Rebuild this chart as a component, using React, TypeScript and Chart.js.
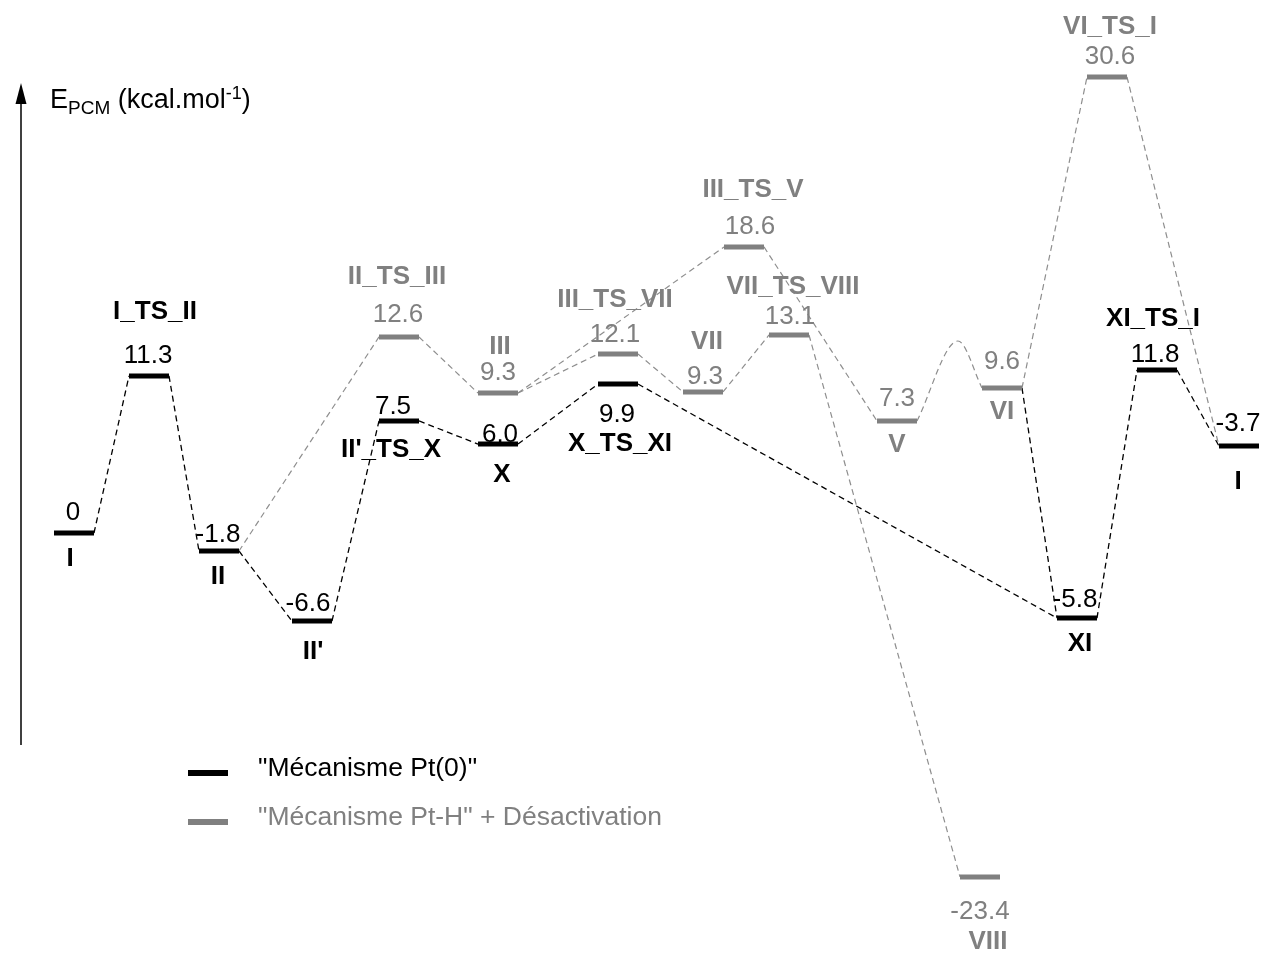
import React, { useEffect, useRef } from 'react';
import { Chart, registerables } from 'chart.js';

Chart.register(...registerables);

// ---------- DATA ----------
// States (index = id). First 10: "Mécanisme Pt(0)" ; last 10: "Mécanisme Pt-H" + Désactivation
const stateNames = [
  'I', 'I_TS_II', 'II', "II'", "II'_TS_X", 'X', 'X_TS_XI', 'XI', 'XI_TS_I', 'I',
  'II_TS_III', 'III', 'III_TS_VII', 'III_TS_V', 'VII', 'VII_TS_VIII', 'V', 'VI', 'VI_TS_I', 'VIII',
];
// Energy labels as printed (kcal/mol)
const energyLabels = [
  '0', '11.3', '-1.8', '-6.6', '7.5', '6.0', '9.9', '-5.8', '11.8', '-3.7',
  '12.6', '9.3', '12.1', '18.6', '9.3', '13.1', '7.3', '9.6', '30.6', '-23.4',
];
// Level heights as drawn on the diagram (kcal/mol scale)
const levels = [
  0, 10.47, -1.2, -5.87, 7.47, 5.93, 9.93, -5.67, 10.87, 5.8,
  13.07, 9.33, 11.93, 19.07, 9.4, 13.2, 7.47, 9.67, 30.4, -22.93,
];
// Reaction coordinate (arbitrary units) of each level's centre
const reactionCoord = [
  0.74, 1.49, 2.19, 3.12, 3.99, 4.98, 6.18, 10.77, 11.57, 12.39,
  3.99, 4.98, 6.18, 7.44, 7.03, 7.89, 8.97, 10.02, 11.07, 9.80,
];
const mechanism = [
  'Pt0', 'Pt0', 'Pt0', 'Pt0', 'Pt0', 'Pt0', 'Pt0', 'Pt0', 'Pt0', 'Pt0',
  'PtH', 'PtH', 'PtH', 'PtH', 'PtH', 'PtH', 'PtH', 'PtH', 'PtH', 'PtH',
];
// Connections [from, to]
const pt0Links = [[0, 1], [1, 2], [2, 3], [3, 4], [4, 5], [5, 6], [6, 7], [17, 7], [7, 8], [8, 9]];
const ptHLinks = [[2, 10], [10, 11], [11, 12], [11, 13], [12, 14], [14, 15], [13, 16], [15, 19], [17, 18], [18, 9]];
// Curved connection [from, to, apex energy]
const ptHCurvedLinks = [[16, 17, 12.8]];

const legendLabels = ['"Mécanisme Pt(0)"', '"Mécanisme Pt-H" + Désactivation'];
const axisTitleParts = ['E', 'PCM', ' (kcal.mol', '-1', ')'];

// ---------- LAYOUT / STYLE ----------
const FONT = '"Liberation Sans", Arial, Helvetica, sans-serif';
const BLACK = '#000000';
const GREY = '#808080';
const GREY_LINE = '#8e8e8e';
const HALF_WIDTH = 0.2;
const TEXT_SIZE = 26;
const LEGEND_SIZE = 26.5;

// pixel offsets of the value label / name label from each level's centre
const valueOffsets = [
  [-1, -22], [-1, -22], [-1, -18], [-4, -19], [-6, -16], [2, -11], [-1, 29], [-2, -20], [-2, -17], [-1, -24],
  [-1, -24], [0, -22], [-3, -21], [6, -22], [2, -17], [1, -20], [0, -24], [0, -28], [3, -22], [0, 33],
];
const nameOffsets = [
  [-4, 24], [6, -66], [-1, 24], [1, 29], [-8, 27], [4, 29], [2, 58], [3, 24], [-4, -53], [-1, 34],
  [-2, -62], [2, -48], [-3, -56], [9, -59], [4, -52], [4, -50], [0, 22], [0, 22], [3, -52], [8, 63],
];

function App() {
  const ref = useRef<HTMLCanvasElement>(null);

  useEffect(() => {
    document.body.style.margin = '0';
    document.body.style.overflow = 'hidden';
    const canvas = ref.current!;
    const colorOf = (i: number) => (mechanism[i] === 'Pt0' ? BLACK : GREY);

    const datasets: any[] = [];
    // level bars
    for (let i = 0; i < stateNames.length; i++) {
      datasets.push({
        label: stateNames[i],
        data: [
          { x: reactionCoord[i] - HALF_WIDTH, y: levels[i] },
          { x: reactionCoord[i] + HALF_WIDTH, y: levels[i] },
        ],
        borderColor: colorOf(i),
        borderWidth: 5,
        borderCapStyle: 'butt',
        pointRadius: 0,
        order: 0,
      });
    }
    const link = (a: number, b: number, color: string, width: number) => ({
      label: 'link',
      data: [
        { x: reactionCoord[a] + HALF_WIDTH, y: levels[a] },
        { x: reactionCoord[b] - HALF_WIDTH, y: levels[b] },
      ],
      borderColor: color,
      borderWidth: width,
      borderDash: [6, 4],
      pointRadius: 0,
      order: 1,
    });
    ptHLinks.forEach(([a, b]) => datasets.push(link(a, b, GREY_LINE, 1.2)));
    pt0Links.forEach(([a, b]) => datasets.push(link(a, b, BLACK, 1.3)));
    ptHCurvedLinks.forEach(([a, b, apex]) => {
      const x0 = reactionCoord[a] + HALF_WIDTH;
      const x1 = reactionCoord[b] - HALF_WIDTH;
      datasets.push({
        label: 'curve',
        data: [
          { x: x0, y: levels[a] },
          { x: x0 + (x1 - x0) * 0.63, y: apex },
          { x: x1, y: levels[b] },
        ],
        borderColor: GREY_LINE,
        borderWidth: 1.2,
        borderDash: [6, 4],
        cubicInterpolationMode: 'monotone',
        pointRadius: 0,
        order: 1,
      });
    });

    const annotations = {
      id: 'annotations',
      afterDatasetsDraw(chart: any) {
        const ctx = chart.ctx;
        const xs = chart.scales.x;
        const ys = chart.scales.y;
        ctx.save();
        const drawText = (t: string, cx: number, cy: number, size: number, bold: boolean, color: string, align = 'center') => {
          ctx.font = `${bold ? 'bold ' : ''}${size}px ${FONT}`;
          ctx.fillStyle = color;
          ctx.textAlign = align;
          ctx.textBaseline = 'alphabetic';
          ctx.fillText(t, cx, cy + size * 0.358);
        };
        for (let i = 0; i < stateNames.length; i++) {
          const cx = xs.getPixelForValue(reactionCoord[i]);
          const cy = ys.getPixelForValue(levels[i]);
          const col = colorOf(i);
          drawText(energyLabels[i], cx + valueOffsets[i][0], cy + valueOffsets[i][1], TEXT_SIZE, false, col);
          drawText(stateNames[i], cx + nameOffsets[i][0], cy + nameOffsets[i][1], TEXT_SIZE, true, col);
        }
        // energy axis arrow
        ctx.strokeStyle = BLACK;
        ctx.lineWidth = 1.5;
        ctx.beginPath();
        ctx.moveTo(21, 745);
        ctx.lineTo(21, 98);
        ctx.stroke();
        ctx.fillStyle = BLACK;
        ctx.beginPath();
        ctx.moveTo(21, 83);
        ctx.lineTo(15.5, 104);
        ctx.lineTo(26.5, 104);
        ctx.closePath();
        ctx.fill();
        // axis title
        let x = 50;
        const base = 108;
        const parts = [
          { t: axisTitleParts[0], s: 27, dy: 0 },
          { t: axisTitleParts[1], s: 19, dy: 6 },
          { t: axisTitleParts[2], s: 27, dy: 0 },
          { t: axisTitleParts[3], s: 18, dy: -9 },
          { t: axisTitleParts[4], s: 27, dy: 0 },
        ];
        ctx.textAlign = 'left';
        ctx.textBaseline = 'alphabetic';
        ctx.fillStyle = BLACK;
        for (const p of parts) {
          ctx.font = `${p.s}px ${FONT}`;
          ctx.fillText(p.t, x, base + p.dy);
          x += ctx.measureText(p.t).width;
        }
        // legend
        const legendRows = [
          { y: 773, ty: 767, color: BLACK },
          { y: 822, ty: 816, color: GREY },
        ];
        legendRows.forEach((r, k) => {
          ctx.strokeStyle = r.color;
          ctx.lineWidth = 6;
          ctx.beginPath();
          ctx.moveTo(188, r.y);
          ctx.lineTo(228, r.y);
          ctx.stroke();
          drawText(legendLabels[k], 258, r.ty, LEGEND_SIZE, false, r.color, 'left');
        });
        ctx.restore();
      },
    };

    const chart = new Chart(canvas, {
      type: 'line',
      data: { datasets },
      options: {
        animation: false,
        responsive: true,
        maintainAspectRatio: false,
        layout: { padding: 0 },
        events: [],
        scales: {
          x: { type: 'linear', min: 0, max: 12.64, display: false },
          y: { type: 'linear', min: -28, max: 35.533, display: false },
        },
        plugins: {
          legend: { display: false },
          tooltip: { enabled: false },
        },
      },
      plugins: [annotations],
    } as any);
    return () => chart.destroy();
  }, []);

  return (
    <div style={{ position: 'relative', width: '1264px', height: '953px', background: '#fff' }}>
      <canvas ref={ref} />
    </div>
  );
}

export default App;
